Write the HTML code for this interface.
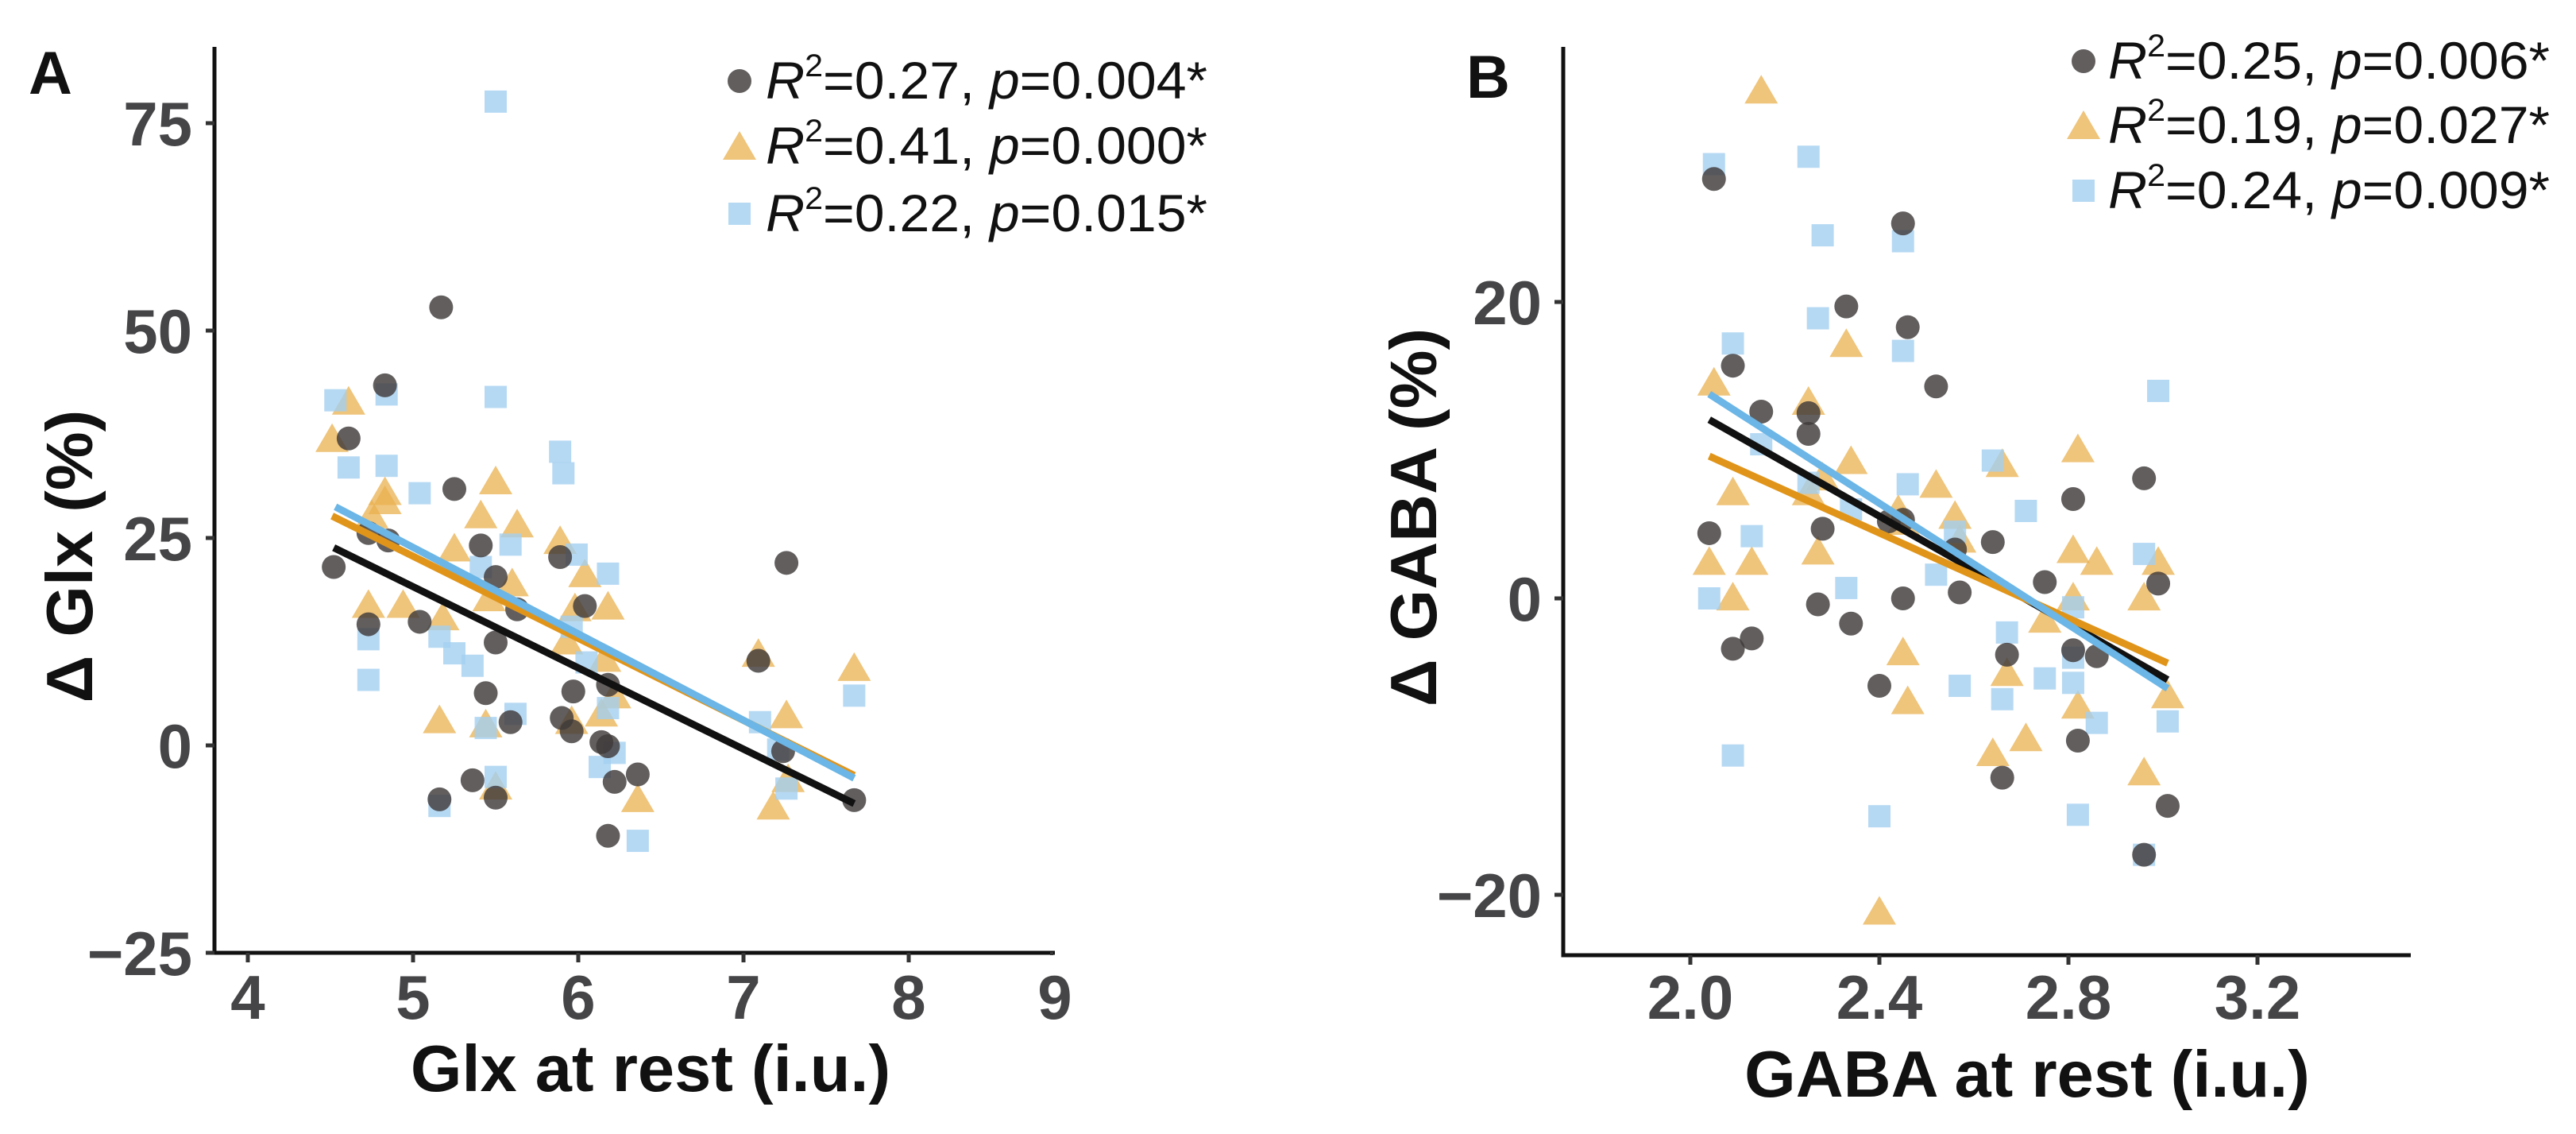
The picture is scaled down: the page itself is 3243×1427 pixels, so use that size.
<!DOCTYPE html>
<html><head><meta charset="utf-8"><style>
html,body{margin:0;padding:0;background:#fff;}
svg{display:block;font-family:"Liberation Sans",Arial,sans-serif;}
</style></head><body>
<svg id="chart" width="3243" height="1427" viewBox="0 0 3243 1427" xmlns="http://www.w3.org/2000/svg">
<rect width="3243" height="1427" fill="#fff"/>
<g id="pa"></g>
<g id="pb"></g>
</svg>
<script>
// Panel A data (Glx)
const aCircX=[5.17,4.83,4.61,4.52,4.73,4.85,4.73,5.04,5.25,5.41,5.50,5.63,5.50,5.44,5.59,5.36,5.16,5.50,5.89,6.04,5.97,5.90,5.96,6.14,6.18,6.18,6.22,6.36,6.18,7.09,7.26,7.24,7.67];
const aCircY=[52.8,43.4,37.0,21.5,25.6,24.7,14.6,14.9,30.9,24.1,20.3,16.4,12.4,6.3,2.8,-4.2,-6.5,-6.3,22.7,16.8,6.5,3.3,1.7,0.4,7.3,-0.1,-4.4,-3.5,-10.9,10.2,22.0,-0.7,-6.6];
const aTriX=[4.61,4.51,4.83,4.83,4.75,4.73,4.94,5.25,5.18,5.50,5.41,5.63,5.60,5.46,5.16,5.44,5.50,5.89,6.04,5.98,5.93,5.96,6.18,6.16,6.22,6.14,6.36,7.09,7.26,7.18,7.27,7.67];
const aTriY=[41.5,37.0,30.6,29.5,27.8,17.0,17.0,23.8,15.5,31.9,27.8,26.7,19.6,17.8,3.1,2.6,-4.9,24.7,20.7,16.6,12.6,3.0,16.8,10.5,6.1,3.9,-6.4,11.1,3.7,-7.3,-4.0,9.4];
const aSqX=[5.50,4.53,4.84,5.50,4.61,4.84,5.04,5.89,5.91,4.73,4.73,5.16,5.25,5.36,5.41,5.59,5.99,6.18,5.96,6.05,6.18,5.62,5.44,5.50,5.16,6.13,6.22,6.36,7.10,7.21,7.26,7.67];
const aSqY=[77.6,41.6,42.3,42.0,33.5,33.7,30.4,35.4,32.8,12.8,7.9,13.1,11.1,9.6,21.5,24.2,23.0,20.7,14.3,10.0,4.5,3.8,2.1,-3.8,-7.3,-2.6,-0.9,-11.5,2.8,-0.5,-5.2,6.0];
const aXTicks=[4,5,6,7,8];
const aYTicks=[75,50,25,0,-25];
const aLegend=[["0.27","0.004*"],["0.41","0.000*"],["0.22","0.015*"]];
// Panel B data (GABA)
const bCircX=[2.05,2.45,2.33,2.46,2.09,2.52,2.15,2.25,2.25,2.04,2.28,2.42,2.45,2.56,2.57,2.45,2.27,2.34,2.09,2.13,2.40,2.64,2.75,2.81,2.96,2.99,2.67,2.81,2.86,2.82,2.66,2.96,3.01];
const bCircY=[28.3,25.3,19.7,18.3,15.7,14.3,12.6,12.5,11.1,4.4,4.7,5.2,5.3,3.3,0.4,0.0,-0.4,-1.7,-3.4,-2.7,-5.9,3.8,1.1,6.7,8.1,1.0,-3.8,-3.5,-3.9,-9.6,-12.1,-17.3,-14.0];
const bTriX=[2.15,2.05,2.25,2.33,2.34,2.28,2.25,2.09,2.04,2.13,2.09,2.27,2.44,2.45,2.52,2.56,2.57,2.45,2.46,2.66,2.82,2.81,2.86,2.81,2.75,2.67,2.82,2.71,2.64,2.96,2.96,2.99,3.01,2.40];
const bTriY=[34.3,14.6,13.3,17.2,9.3,8.2,7.2,7.2,2.5,2.5,0.1,3.2,6.0,5.2,7.7,5.6,4.0,-3.6,-6.9,9.1,10.1,3.3,2.5,0.1,-1.4,-5.0,-7.2,-9.4,-10.4,-11.7,0.1,2.5,-6.5,-21.1];
const bSqX=[2.05,2.25,2.28,2.45,2.27,2.09,2.45,2.15,2.25,2.34,2.13,2.04,2.33,2.46,2.52,2.56,2.57,2.64,2.71,2.67,2.66,2.75,2.81,2.81,2.81,2.86,2.82,2.40,2.09,2.96,2.99,3.01,2.96];
const bSqY=[29.3,29.8,24.5,24.1,18.9,17.2,16.7,10.4,7.8,6.0,4.2,0.0,0.7,7.7,1.6,4.5,-5.9,9.3,5.9,-2.3,-6.8,-5.4,-0.6,-4.0,-5.7,-8.4,-14.6,-14.7,-10.6,3.0,14.0,-8.3,-17.3];
const bXTicks=[2.0,2.4,2.8,3.2];
const bYTicks=[20,0,-20];
const bLegend=[["0.25","0.006*"],["0.19","0.027*"],["0.24","0.009*"]];

const NS="http://www.w3.org/2000/svg";
function mk(parent,tag,attrs){const e=document.createElementNS(NS,tag);for(const k in attrs)e.setAttribute(k,attrs[k]);parent.appendChild(e);return e;}
function fit(xs,ys){const n=xs.length;let mx=0,my=0;for(let i=0;i<n;i++){mx+=xs[i];my+=ys[i];}mx/=n;my/=n;let sxy=0,sxx=0;for(let i=0;i<n;i++){sxy+=(xs[i]-mx)*(ys[i]-my);sxx+=(xs[i]-mx)**2;}const b=sxy/sxx;return [my-b*mx,b];}

function panel(g,cfg){
  const sx=v=>cfg.x0+(v-cfg.xv0)*cfg.xs, sy=v=>cfg.y0-v*cfg.ys;
  const pts=mk(g,'g',{});
  
  
  cfg.tx.forEach((x,i)=>{const cx=sx(x),cy=sy(cfg.ty[i]);const p=mk(pts,'polygon',{points:`${cx-21},${cy+17} ${cx+21},${cy+17} ${cx},${cy-19}`,fill:'#e9b04f','fill-opacity':'0.75'});
    
    });
  cfg.sqx.forEach((x,i)=>{const cx=sx(x),cy=sy(cfg.sqy[i]);const p=mk(pts,'rect',{x:cx-14,y:cy-14,width:28,height:28,fill:'#a4cff0','fill-opacity':'0.8'});
    
    });
  cfg.cx.forEach((x,i)=>{const p=mk(pts,'circle',{cx:sx(x),cy:sy(cfg.cy[i]),r:15,fill:'#3f3b3b','fill-opacity':'0.82'});
    
    });
  [[cfg.cx,cfg.cy,'#111111','fit-line-circle'],[cfg.tx,cfg.ty,'#e0951a','fit-line-triangle'],[cfg.sqx,cfg.sqy,'#6bb6e6','fit-line-square']].forEach(([xs,ys,col,nm])=>{
    const [a,b]=fit(xs,ys);const lo=Math.min(...xs),hi=Math.max(...xs);
    const l=mk(g,'line',{x1:sx(lo),y1:sy(a+b*lo),x2:sx(hi),y2:sy(a+b*hi),stroke:col,'stroke-width':9});
    
    });
  const ya=mk(g,'line',{x1:cfg.ax,y1:59,x2:cfg.ax,y2:cfg.ay+2.5,stroke:'#111','stroke-width':5});
  
  
  const xa=mk(g,'line',{x1:cfg.ax-2.5,y1:cfg.ay,x2:cfg.axEnd,y2:cfg.ay,stroke:'#111','stroke-width':5});
  
  
  cfg.xt.forEach(t=>{const x=sx(t);mk(g,'line',{x1:x,y1:cfg.ay,x2:x,y2:cfg.ay+12,stroke:'#333','stroke-width':5});
    const tl=mk(g,'text',{x:x,y:1282,'text-anchor':'middle','font-size':78,'font-weight':'bold',fill:'#454548'});tl.textContent=cfg.xfmt(t);
    
    });
  cfg.yt.forEach(t=>{const y=sy(t);mk(g,'line',{x1:cfg.ax-11,y1:y,x2:cfg.ax,y2:y,stroke:'#333','stroke-width':5});
    const tl=mk(g,'text',{x:cfg.ylx,y:y+28,'text-anchor':'end','font-size':78,'font-weight':'bold',fill:'#454548'});tl.textContent=t<0?'\u2212'+(-t):String(t);
    
    });
  cfg.leg.forEach((r,i)=>{const bl=cfg.legY[i],mx=cfg.legMx,my=bl-22;
    let m;
    if(i===0)m=mk(g,'circle',{cx:mx,cy:my,r:15,fill:'#3f3b3b','fill-opacity':'0.82'});
    else if(i===1)m=mk(g,'polygon',{points:`${mx-21},${my+17} ${mx+21},${my+17} ${mx},${my-19}`,fill:'#e9b04f','fill-opacity':'0.75'});
    else m=mk(g,'rect',{x:mx-14,y:my-14,width:28,height:28,fill:'#a4cff0','fill-opacity':'0.8'});
    
    
    const t=mk(g,'text',{x:cfg.legTx,y:bl,'font-size':66,fill:'#111',textLength:556,lengthAdjust:'spacingAndGlyphs'});
    
    
    t.innerHTML=`<tspan font-style="italic">R</tspan><tspan font-size="40" dy="-28">2</tspan><tspan dy="28">=${r[0]}, </tspan><tspan font-style="italic">p</tspan><tspan>=${r[1]}</tspan>`;});
  const pl=mk(g,'text',{x:cfg.plx,y:cfg.ply,'font-size':76,'font-weight':'bold',fill:'#111'});pl.textContent=cfg.letter;
  
  
  const xt=mk(g,'text',{x:cfg.xtx,y:cfg.xty,'text-anchor':'middle','font-size':83,'font-weight':'bold',fill:'#111'});xt.textContent=cfg.xtitle;
  
  
  const yt=mk(g,'text',{x:0,y:0,'text-anchor':'middle','font-size':83,'font-weight':'bold',fill:'#111',transform:`translate(${cfg.ytx},${cfg.yty}) rotate(-90)`});yt.textContent=cfg.ytitle;
  
  
}
panel(document.getElementById('pa'),{x0:312,xv0:4,xs:208,y0:938,ys:10.44,ax:270,ay:1199,axEnd:1328,
  cx:aCircX,cy:aCircY,tx:aTriX,ty:aTriY,sqx:aSqX,sqy:aSqY,xt:aXTicks,yt:aYTicks,xfmt:t=>String(t),ylx:242,
  leg:aLegend,legY:[124,206,291],legMx:931,legTx:964,letter:'A',plx:36,ply:118,
  xtitle:'Glx at rest (i.u.)',xtx:819,xty:1373,ytitle:'\u0394 Glx (%)',ytx:116,yty:700});
(function(){const g=document.getElementById('pa');
  mk(g,'line',{x1:1322,y1:1200,x2:1326,y2:1200,stroke:'#333','stroke-width':4});
  const t=mk(g,'text',{x:1328,y:1282,'text-anchor':'middle','font-size':78,'font-weight':'bold',fill:'#454548'});t.textContent='9';
  
  })();
panel(document.getElementById('pb'),{x0:2128,xv0:2.0,xs:595,y0:753,ys:18.65,ax:1968,ay:1202,axEnd:3035,
  cx:bCircX,cy:bCircY,tx:bTriX,ty:bTriY,sqx:bSqX,sqy:bSqY,xt:bXTicks,yt:bYTicks,xfmt:t=>t.toFixed(1),ylx:1941,
  leg:bLegend,legY:[99,180,262],legMx:2623,legTx:2654,letter:'B',plx:1846,ply:123,
  xtitle:'GABA at rest (i.u.)',xtx:2552,xty:1380,ytitle:'\u0394 GABA (%)',ytx:1808,yty:651});
</script>
</body></html>
